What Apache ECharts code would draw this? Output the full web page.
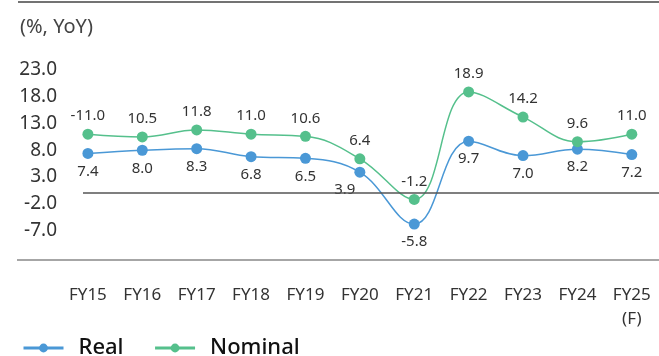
<!DOCTYPE html>
<html>
<head>
<meta charset="utf-8">
<script src="https://cdn.jsdelivr.net/npm/echarts@6/dist/echarts.min.js"></script>
<style>
  html, body { margin: 0; padding: 0; background: #fff; }
  #chart { width: 659px; height: 356px; }
</style>
</head>
<body>
<div id="chart"></div>
<script>
// data
var years = ['FY15', 'FY16', 'FY17', 'FY18', 'FY19', 'FY20', 'FY21', 'FY22', 'FY23', 'FY24', 'FY25\n(F)'];
var realGrowth = [7.4, 8.0, 8.3, 6.8, 6.5, 3.9, -5.8, 9.7, 7.0, 8.2, 7.2];
var nominalGrowth = [11.0, 10.5, 11.8, 11.0, 10.6, 6.4, -1.2, 18.9, 14.2, 9.6, 11.0];
var nominalLabels = ['-11.0', '10.5', '11.8', '11.0', '10.6', '6.4', '-1.2', '18.9', '14.2', '9.6', '11.0'];
var yTicks = [-7, -2, 3, 8, 13, 18, 23];

var font = '"Noto Sans", sans-serif';
var blue = '#4a98d6';
var green = '#55c08c';

var myChart = echarts.init(document.getElementById('chart'));

function pairs(arr) {
    return arr.map(function (v, i) { return [i, v]; });
}

var realData = pairs(realGrowth);
// FY20 label sits to the left of its point
realData[5] = { value: realData[5], label: { offset: [-15, 0] } };

var option = {
    animation: false,
    title: {
        text: '(%, YoY)',
        left: 15,
        top: 12,
        textStyle: { fontFamily: font, fontSize: 20, fontWeight: 'normal', color: '#444' }
    },
    grid: { left: 83, right: 0, top: 70, bottom: 125.5 },
    legend: {
        left: 17,
        top: 332,
        itemWidth: 40,
        itemHeight: 11,
        itemGap: 30,
        textStyle: { fontFamily: font, fontSize: 22, fontWeight: 500, color: '#111', padding: [0, 0, 0, 10] },
        data: [
            { name: 'Real', lineStyle: { width: 3 } },
            { name: 'Nominal', lineStyle: { width: 3 } }
        ]
    },
    xAxis: {
        type: 'value',
        min: -0.09,
        max: 10.5,
        axisLine: { show: false },
        axisTick: { show: false },
        splitLine: { show: false },
        axisLabel: {
            customValues: years.map(function (y, i) { return i; }),
            formatter: function (v) { return years[Math.round(v)]; },
            margin: 53,
            fontFamily: font,
            fontSize: 17,
            lineHeight: 24,
            color: '#333'
        }
    },
    yAxis: {
        type: 'value',
        min: -7,
        max: 23,
        axisLine: { show: false },
        axisTick: { show: false },
        splitLine: { show: false },
        axisLabel: {
            customValues: yTicks,
            formatter: function (v) { return v.toFixed(1); },
            margin: 26,
            fontFamily: font,
            fontSize: 19,
            color: '#333'
        }
    },
    graphic: [
        { type: 'line', shape: { x1: 18, y1: 2, x2: 659, y2: 2 }, style: { stroke: '#444', lineWidth: 1.5 } },
        { type: 'line', shape: { x1: 17, y1: 260, x2: 659, y2: 260 }, style: { stroke: '#888', lineWidth: 1.5 } }
    ],
    series: [
        {
            name: 'Real',
            type: 'line',
            smooth: 0.4,
            symbol: 'circle',
            symbolSize: 11,
            itemStyle: { color: blue },
            lineStyle: { color: blue, width: 1.5 },
            label: {
                show: true,
                position: 'bottom',
                distance: 5,
                fontFamily: font,
                fontSize: 15,
                color: '#333',
                formatter: function (p) { return p.value[1].toFixed(1); }
            },
            data: realData,
            markLine: {
                silent: true,
                symbol: 'none',
                label: { show: false },
                lineStyle: { color: '#555', type: 'solid', width: 1.5 },
                data: [{ yAxis: 0 }]
            }
        },
        {
            name: 'Nominal',
            type: 'line',
            smooth: 0.4,
            symbol: 'circle',
            symbolSize: 11,
            itemStyle: { color: green },
            lineStyle: { color: green, width: 1.5 },
            label: {
                show: true,
                position: 'top',
                distance: 5,
                fontFamily: font,
                fontSize: 15,
                color: '#333',
                formatter: function (p) { return nominalLabels[p.dataIndex]; }
            },
            data: pairs(nominalGrowth)
        }
    ]
};

myChart.setOption(option);
</script>
</body>
</html>
